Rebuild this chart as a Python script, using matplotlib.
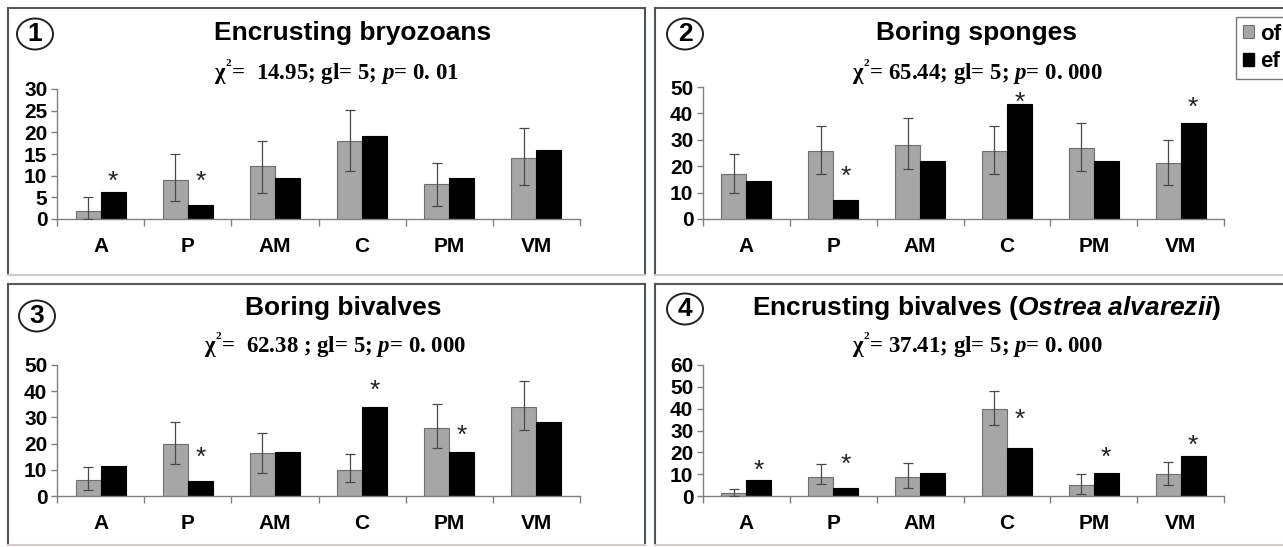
import matplotlib
matplotlib.use("Agg")
import matplotlib.pyplot as plt
from matplotlib.patches import Ellipse, Patch
from matplotlib.lines import Line2D
import numpy as np

plt.rcParams['font.family'] = ['Liberation Sans', 'DejaVu Sans']
plt.rcParams['mathtext.fontset'] = 'custom'
plt.rcParams['mathtext.rm'] = 'Liberation Serif:bold'
plt.rcParams['mathtext.it'] = 'Liberation Serif:bold:italic'
plt.rcParams['mathtext.bf'] = 'Liberation Serif:bold'
plt.rcParams['mathtext.sf'] = 'Liberation Sans:bold:italic'

categories = ['A', 'P', 'AM', 'C', 'PM', 'VM']

# Panel 1: Encrusting bryozoans
p1_of = [1.9, 8.9, 12.2, 18.1, 8.0, 14.0]
p1_of_lo = [0.0, 4.1, 6.1, 11.1, 2.9, 7.9]
p1_of_hi = [5.0, 14.9, 18.1, 25.2, 13.0, 21.0]
p1_ef = [6.3, 3.2, 9.5, 19.2, 9.5, 15.9]
p1_stars = [10.5, 10.5, None, None, None, None]

# Panel 2: Boring sponges
p2_of = [17.1, 25.9, 28.0, 25.9, 27.0, 21.3]
p2_of_lo = [9.9, 17.1, 19.1, 17.1, 18.0, 12.9]
p2_of_hi = [24.8, 35.2, 38.4, 35.2, 36.2, 30.0]
p2_ef = [14.4, 7.3, 21.8, 43.4, 21.8, 36.2]
p2_stars = [None, 19.2, None, 47.3, None, 45.4]

# Panel 3: Boring bivalves
p3_of = [6.2, 19.8, 16.3, 10.0, 26.1, 34.0]
p3_of_lo = [2.2, 12.1, 8.9, 5.3, 18.3, 25.1]
p3_of_hi = [10.9, 28.4, 24.2, 16.2, 35.0, 43.9]
p3_ef = [11.6, 5.9, 16.8, 34.0, 16.8, 28.2]
p3_stars = [None, 17.6, None, 43.4, 26.1, None]

# Panel 4: Encrusting bivalves (Ostrea alvarezii)
p4_of = [1.3, 8.7, 8.8, 40.0, 5.1, 10.1]
p4_of_lo = [0.0, 5.5, 3.8, 32.3, 1.1, 5.1]
p4_of_hi = [3.2, 14.5, 15.2, 48.2, 10.1, 15.6]
p4_ef = [7.5, 3.8, 10.7, 22.0, 10.7, 18.4]
p4_stars = [15.2, 17.9, None, 38.6, 21.3, 26.8]

y_maxes = [30, 50, 50, 60]
y_steps = [5, 10, 10, 10]
titles = ['Encrusting bryozoans', 'Boring sponges', 'Boring bivalves',
          r'Encrusting bivalves ($\mathsf{Ostrea\ alvarezii}$)']
subtitles = [r'$\mathrm{\chi}^{^{2}}$=  14.95; gl= 5; $p$= 0. 01',
             r'$\mathrm{\chi}^{^{2}}$= 65.44; gl= 5; $p$= 0. 000',
             r'$\mathrm{\chi}^{^{2}}$=  62.38 ; gl= 5; $p$= 0. 000',
             r'$\mathrm{\chi}^{^{2}}$= 37.41; gl= 5; $p$= 0. 000']
numbers = ['1', '2', '3', '4']
legend_labels = ['of', 'ef']

W, H = 1283, 547
fig = plt.figure(figsize=(W / 100, H / 100), dpi=100)
fig.patch.set_facecolor('white')

def fx(x):
    return x / W

def fy(y):
    return 1 - y / H

GRAY = '#a6a6a6'
AXC = '#808080'

# panel frames (pixel coords)
frames = [(8, 8, 645, 275), (655, 8, 1300, 275), (8, 284, 645, 545), (655, 284, 1300, 545)]
for (l, t, r, b) in frames:
    for xs, ys, c in [((l, r), (t, t), '#5a5a5a'), ((l, l), (t, b), '#4e5558'),
                      ((r, r), (t, b), '#4e5558'), ((l, r), (b, b), '#d8c8c8')]:
        fig.add_artist(Line2D([fx(xs[0]), fx(xs[1])], [fy(ys[0]), fy(ys[1])],
                              transform=fig.transFigure, color=c, lw=1.5))

axes_px = [(57, 580, 219, 89), (703, 1224, 219, 87), (57, 580, 496, 365), (703, 1224, 496, 365)]
title_pos = [(353, 33), (977, 33), (343, 308), (987, 308)]
sub_pos = [(336, 72), (977, 72), (335, 345), (977, 345)]
circ_pos = [(35, 34), (685, 34), (37, 316), (685, 309)]

data = [(p1_of, p1_of_lo, p1_of_hi, p1_ef, p1_stars),
        (p2_of, p2_of_lo, p2_of_hi, p2_ef, p2_stars),
        (p3_of, p3_of_lo, p3_of_hi, p3_ef, p3_stars),
        (p4_of, p4_of_lo, p4_of_hi, p4_ef, p4_stars)]

bw = 0.287
for i in range(4):
    of, lo, hi, ef, stars = data[i]
    of = np.array(of); lo = np.array(lo); hi = np.array(hi)
    x0, x1, y0, yt = axes_px[i]
    ax = fig.add_axes([fx(x0), fy(y0), (x1 - x0) / W, (y0 - yt) / H])
    ax.patch.set_alpha(0)
    x = np.arange(len(categories))
    ax.bar(x - bw / 2, of, width=bw, color=GRAY, edgecolor='#6e6e6e', linewidth=0.8, zorder=2)
    ax.bar(x + bw / 2, ef, width=bw, color='black', edgecolor='black', linewidth=0.8, zorder=2)
    ax.errorbar(x - bw / 2, of, yerr=[of - lo, hi - of], fmt='none', ecolor='#4a4a4a',
                elinewidth=0.9, capsize=3.3, capthick=0.9, zorder=3)
    for j, s in enumerate(stars):
        if s is not None:
            ax.annotate('*', xy=(x[j] + bw / 2, s), xytext=(0, -11), textcoords='offset points',
                        ha='center', va='baseline', fontsize=19, color='#222222')
    ax.set_xlim(-0.5, len(categories) - 0.5)
    ax.set_ylim(0, y_maxes[i])
    ax.set_yticks(np.arange(0, y_maxes[i] + 0.1, y_steps[i]))
    ax.set_xticks(x)
    ax.set_xticklabels(categories)
    ax.set_xticks(np.arange(-0.5, len(categories), 1.0), minor=True)
    ax.tick_params(axis='x', which='major', length=0, pad=13, labelsize=15)
    ax.tick_params(axis='x', which='minor', length=5, color=AXC, width=1, direction='out')
    ax.tick_params(axis='y', length=4, color=AXC, width=1, pad=3, labelsize=15)
    for lab in ax.get_xticklabels() + ax.get_yticklabels():
        lab.set_fontweight('bold')
    for sp in ['top', 'right']:
        ax.spines[sp].set_visible(False)
    for sp in ['left', 'bottom']:
        ax.spines[sp].set_color(AXC)
        ax.spines[sp].set_linewidth(1)

    tx, ty = title_pos[i]
    fig.text(fx(tx), fy(ty), titles[i], ha='center', va='center', fontsize=19, fontweight='bold')
    sx, sy = sub_pos[i]
    fig.text(fx(sx), fy(sy), subtitles[i], ha='center', va='center', fontsize=16.5,
             fontweight='bold', family='Liberation Serif')
    cx, cy = circ_pos[i]
    fig.add_artist(Ellipse((fx(cx), fy(cy)), 36 / W, 31 / H, transform=fig.transFigure,
                           facecolor='none', edgecolor='#222222', lw=1.4))
    fig.text(fx(cx), fy(cy), numbers[i], ha='center', va='center', fontsize=19, fontweight='bold')

handles = [Patch(facecolor=GRAY, edgecolor='#6e6e6e', linewidth=0.8),
           Patch(facecolor='black', edgecolor='black')]
leg = fig.legend(handles, legend_labels, loc='upper left', bbox_to_anchor=(fx(1236), fy(17)),
                 borderaxespad=0, frameon=True, fancybox=False,
                 prop={'weight': 'bold', 'size': 16}, handlelength=0.5, handleheight=0.5,
                 handletextpad=0.3, borderpad=0.3, labelspacing=0.3)
leg.get_frame().set_edgecolor('#555555')
leg.get_frame().set_linewidth(1.0)

fig.savefig('out.png', dpi=100)
